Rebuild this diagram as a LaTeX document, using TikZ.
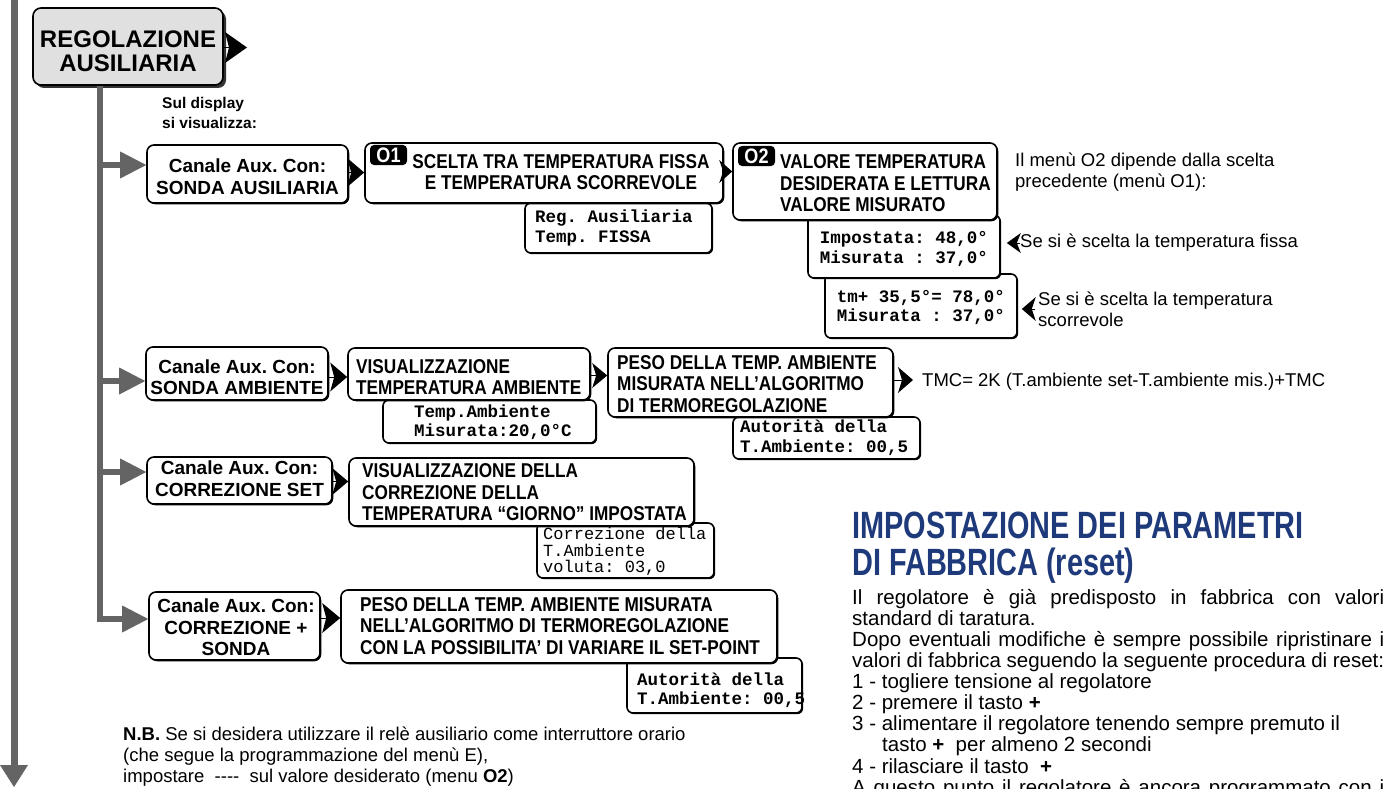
\documentclass[tikz,border=0pt]{standalone}
\usepackage{fontspec}
\setmainfont{Liberation Sans}
\newfontfamily\nbf{Liberation Sans}[FakeStretch=0.86]
\newfontfamily\headf{Liberation Sans}[FakeStretch=0.76]
\newfontfamily\monof{Liberation Mono}
\usetikzlibrary{arrows.meta,shadows}
\definecolor{gcol}{RGB}{100,100,100}
\definecolor{hblue}{RGB}{30,58,122}
\definecolor{regfill}{RGB}{224,224,224}
\tikzset{
  mbox/.style={draw=black, line width=1.6pt, rounded corners=7pt, fill=white, inner sep=0pt,
    drop shadow={shadow xshift=1.3pt, shadow yshift=-1.3pt, fill=black, opacity=1}},
  dbox/.style={draw=black, line width=1.6pt, rounded corners=6pt, fill=white, inner sep=0pt,
    drop shadow={shadow xshift=1.2pt, shadow yshift=-1.2pt, fill=black, opacity=1}},
  regbox/.style={draw=black, line width=1.6pt, rounded corners=8pt, fill=regfill, inner sep=0pt,
    drop shadow={shadow xshift=3pt, shadow yshift=-3pt, fill=black!80, opacity=1}},
  tagbox/.style={fill=black, rounded corners=4pt, minimum width=37pt, minimum height=20pt, inner sep=0pt,
    text=white, font=\nbf\fontsize{21}{21}\selectfont\bfseries},
  regtext/.style={inner sep=0pt, align=center, font=\fontsize{24}{24}\selectfont\bfseries},
  ctext/.style={inner sep=0pt, align=center, font=\fontsize{19}{21.5}\selectfont\bfseries},
  ntextc/.style={inner sep=0pt, align=center, font=\nbf\fontsize{20}{21}\selectfont\bfseries},
  ntext/.style={inner sep=0pt, align=left, anchor=west, font=\nbf\fontsize{20}{21.5}\selectfont\bfseries},
  mtext/.style={inner sep=0pt, align=left, anchor=west, font=\monof\fontsize{17.5}{19.5}\selectfont\bfseries},
  mtextc/.style={inner sep=0pt, align=center, font=\monof\fontsize{17.5}{19.5}\selectfont\bfseries},
  mrtext/.style={inner sep=0pt, align=left, anchor=west, font=\monof\fontsize{17}{16.7}\selectfont},
  rtext/.style={inner sep=0pt, align=left, anchor=west, font=\fontsize{18.5}{21}\selectfont},
  nbtext/.style={inner sep=0pt, align=left, anchor=west, font=\fontsize{18.5}{21}\selectfont},
  sultext/.style={inner sep=0pt, align=left, anchor=west, font=\fontsize{15.5}{20}\selectfont\bfseries},
  headt/.style={inner sep=0pt, anchor=base west, text=hblue, font=\headf\fontsize{38}{38}\selectfont\bfseries},
  body/.style={inner sep=0pt, anchor=base west, font=\fontsize{20.5}{21}\selectfont},
  gline/.style={draw=gcol, line width=6pt},
  garrow/.style={gline, line join=miter, -{Triangle[length=26pt,width=27pt,line width=0pt]}},
  gdown/.style={draw=gcol, line width=7pt, -{Triangle[length=22pt,width=28pt,line width=0pt]}},
  chev/.style args={#1/#2}{draw=black, fill=black, line width=0.1pt, -{Stealth[length=#1pt,width=#2pt,inset=4pt,line width=0pt]}}
}
\begin{document}
\frenchspacing
\begin{tikzpicture}[x=1pt,y=-1pt]
\useasboundingbox (0,0) rectangle (1389,789);
\fill[white] (0,0) rectangle (1389,789);

% ---------- left main line
\coordinate (Ltop) at (14,0);
\coordinate (Lbot) at (14,787);
\draw[gdown] (Ltop) -- (Lbot);

% ---------- display boxes (drawn first, under the boxes)
\node[dbox, minimum width=187pt, minimum height=50pt] (D1) at (618.5,228) {};
\node[dbox, minimum width=192pt, minimum height=64pt] (D2b) at (921,306) {};
\node[dbox, minimum width=192pt, minimum height=63pt] (D2a) at (904,246.5) {};
\node[dbox, minimum width=213pt, minimum height=43pt] (D2) at (489.5,421.5) {};
\node[dbox, minimum width=187pt, minimum height=42pt] (DP2) at (826.5,438) {};
\node[dbox, minimum width=177pt, minimum height=55pt] (DC3) at (625.5,550.5) {};
\node[dbox, minimum width=175pt, minimum height=55pt] (DP4) at (714.5,685.5) {};

% ---------- main boxes
\node[regbox, minimum width=190pt, minimum height=77pt] (REG) at (128,46.5) {};
\node[mbox, minimum width=201pt, minimum height=58pt] (B1) at (247.5,174) {};
\node[mbox, minimum width=358pt, minimum height=60pt] (O1) at (544,173) {};
\node[mbox, minimum width=264pt, minimum height=77pt] (O2) at (865,181.5) {};
\node[mbox, minimum width=182pt, minimum height=53pt] (B2) at (237,373.5) {};
\node[mbox, minimum width=242pt, minimum height=52pt] (V2) at (469,374) {};
\node[mbox, minimum width=285pt, minimum height=69pt] (P2) at (750.5,382.5) {};
\node[mbox, minimum width=185pt, minimum height=47pt] (B3) at (239.5,480.5) {};
\node[mbox, minimum width=345pt, minimum height=68pt] (V3) at (521.5,492) {};
\node[mbox, minimum width=171pt, minimum height=68pt] (B4) at (234.5,626) {};
\node[mbox, minimum width=436pt, minimum height=73pt] (P4) at (559,626.5) {};

\node[tagbox] (T1) at (388.5,155) {O1};
\node[tagbox] (T2) at (756.5,156) {O2};

% ---------- texts in boxes
\node[regtext] (REGt) at (128,51) {REGOLAZIONE\\AUSILIARIA};
\node[sultext] (sul) at (162,113) {Sul display\\si visualizza:};

\node[ctext] (B1t) at (247.5,176.5) {Canale Aux. Con:\\SONDA AUSILIARIA};
\node[ntextc] (O1t) at (561,172.5) {SCELTA TRA TEMPERATURA FISSA\\E TEMPERATURA SCORREVOLE};
\node[mtext] (D1t) at (535,228) {Reg. Ausiliaria\\Temp. FISSA};
\node[ntext] (O2t) at (780,183.5) {VALORE TEMPERATURA\\DESIDERATA E LETTURA\\VALORE MISURATO};
\node[mtextc] (D2at) at (904,249) {Impostata: 48,0°\\Misurata : 37,0°};
\node[mtextc] (D2bt) at (921,307.5) {tm+ 35,5°= 78,0°\\Misurata : 37,0°};
\node[rtext] (note1) at (1015,172.5) {Il menù O2 dipende dalla scelta\\precedente (menù O1):};
\node[rtext] (se1) at (1020,243) {Se si è scelta la temperatura fissa};
\node[rtext] (se2) at (1038,309) {Se si è scelta la temperatura\\scorrevole};

\node[ctext] (B2t) at (237,377) {Canale Aux. Con:\\SONDA AMBIENTE};
\node[ntext] (V2t) at (356,377) {VISUALIZZAZIONE\\TEMPERATURA AMBIENTE};
\node[mtext] (D2t) at (414,422) {Temp.Ambiente\\Misurata:20,0°C};
\node[ntext] (P2t) at (617,384) {PESO DELLA TEMP. AMBIENTE\\MISURATA NELL’ALGORITMO\\DI TERMOREGOLAZIONE};
\node[mtext] (DP2t) at (740,437.5) {Autorità della\\T.Ambiente: 00,5};
\node[rtext] (tmc) at (922,382) {TMC= 2K (T.ambiente set-T.ambiente mis.)+TMC};

\node[ctext] (B3t) at (239.5,478.5) {Canale Aux. Con:\\CORREZIONE SET};
\node[ntext] (V3t) at (362,492.5) {VISUALIZZAZIONE DELLA\\CORREZIONE DELLA\\TEMPERATURA “GIORNO” IMPOSTATA};
\node[mrtext] (DC3t) at (543,551.5) {Correzione della\\T.Ambiente\\voluta: 03,0};

\node[ctext] (B4t) at (236,627.5) {Canale Aux. Con:\\CORREZIONE +\\SONDA};
\node[ntext] (P4t) at (360,626) {PESO DELLA TEMP. AMBIENTE MISURATA\\NELL’ALGORITMO DI TERMOREGOLAZIONE\\CON LA POSSIBILITA’ DI VARIARE IL SET-POINT};
\node[mtext] (DP4t) at (637,690) {Autorità della\\T.Ambiente: 00,5};

\node[nbtext] (nb) at (123,757) {\textbf{N.B.} Se si desidera utilizzare il relè ausiliario come interruttore orario\\(che segue la programmazione del menù E),\\impostare\ \ -{}-{}-{}-\ \ sul valore desiderato (menu \textbf{O2})};

% ---------- right block
\node[headt] (H1) at (852,538.6) {IMPOSTAZIONE DEI PARAMETRI};
\node[headt] (H2) at (852,575.6) {DI FABBRICA (reset)};
\node[body] (L1) at (852,604.3) {\makebox[532pt][s]{Il regolatore è già predisposto in fabbrica con valori}};
\node[body] (L2) at (852,625.3) {standard di taratura.};
\node[body] (L3) at (852,646.3) {\makebox[532pt][s]{Dopo eventuali modifiche è sempre possibile ripristinare i}};
\node[body] (L4) at (852,667.3) {\makebox[532pt][s]{valori di fabbrica seguendo la seguente procedura di reset:}};
\node[body] (L5) at (852,688.8) {1 - togliere tensione al regolatore};
\node[body] (L6) at (852,709.8) {2 - premere il tasto\ \textbf{+}};
\node[body] (L7) at (852,730.8) {3 - alimentare il regolatore tenendo sempre premuto il};
\node[body] (L8) at (882,751.8) {tasto\ \textbf{+}\ \ per almeno 2 secondi};
\node[body] (L9) at (852,773.3) {4 - rilasciare il tasto\ \ \textbf{+}};
\node[body] (L10) at (852,794.3) {\makebox[532pt][s]{A questo punto il regolatore è ancora programmato con i}};

% ---------- gray branch arrows
\coordinate (s1) at (100,165);
\coordinate (s2) at (100,381);
\coordinate (s3) at (100,472);
\coordinate (s4) at (100,619);
\draw[garrow] (REG.south -| s1) -- (s4) -- (s4 -| B4.west);
\draw[garrow] (s1) -- (s1 -| B1.west);
\draw[garrow] (s2) -- (s2 -| B2.west);
\draw[garrow] (s3) -- (s3 -| B3.west);

% ---------- black chevrons
\coordinate (regtip) at (247,47.5);
\draw[chev=22/31] (REG.east |- regtip) -- (regtip);
\coordinate (y1a) at (0,172.5);
\draw[chev=17/29] (B1.east |- y1a) -- (O1.west |- y1a);
\coordinate (y1b) at (0,171.5);
\draw[chev=13/23] (O1.east |- y1b) -- (O2.west |- y1b);
\coordinate (y2a) at (0,377);
\draw[chev=17/29] (B2.east |- y2a) -- (V2.west |- y2a);
\coordinate (y2b) at (0,375.5);
\draw[chev=15/25] (V2.east |- y2b) -- (P2.west |- y2b);
\coordinate (y2c) at (0,380);
\draw[chev=15/26, shorten >=9pt] (P2.east |- y2c) -- (tmc.west |- y2c);
\coordinate (y3) at (0,481.5);
\draw[chev=16/27] (B3.east |- y3) -- (V3.west |- y3);
\coordinate (y4) at (0,618);
\draw[chev=18/30] (B4.east |- y4) -- (P4.west |- y4);
\draw[chev=14/20, shorten >=6pt] (se1.west) -- (D2a.east |- se1.west);
\draw[chev=14/24, shorten <=3pt, shorten >=4pt] (se2.west) -- (D2b.east |- se2.west);
\end{tikzpicture}
\end{document}
